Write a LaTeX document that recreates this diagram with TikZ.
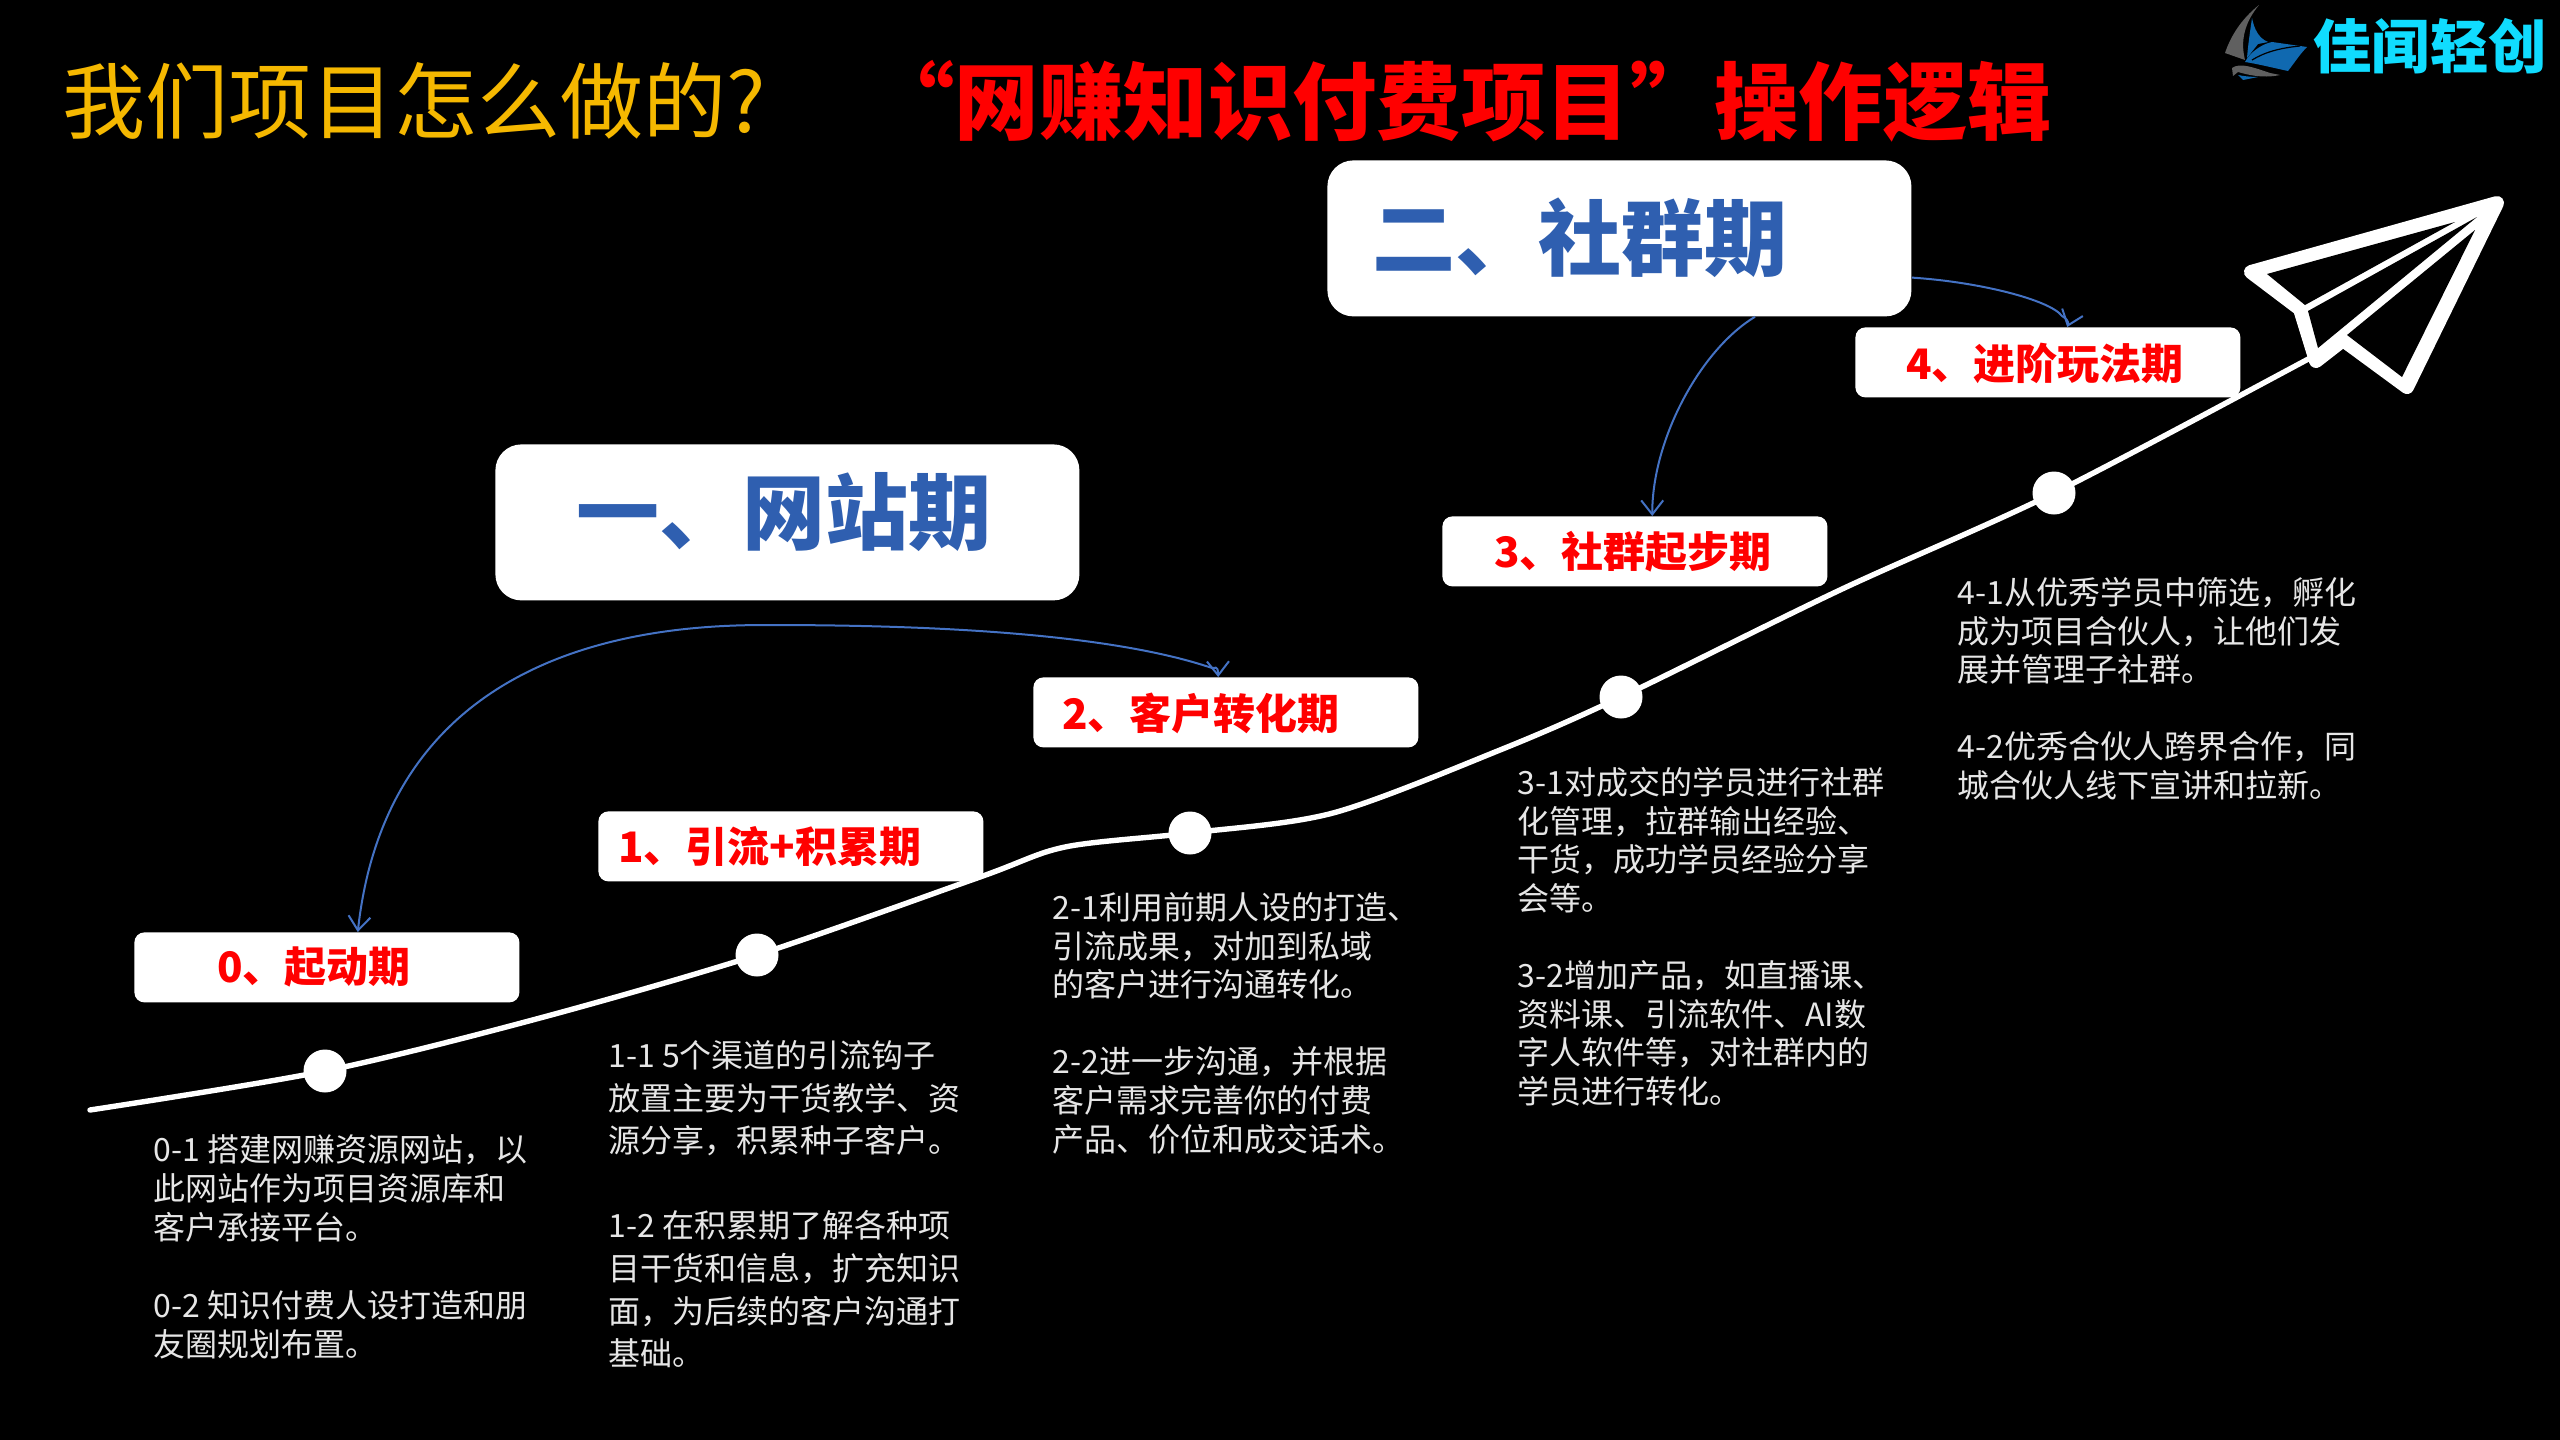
\documentclass[tikz,border=0pt]{standalone}
\usepackage{fontspec}
\setmainfont{Noto Sans CJK SC}
\newfontfamily\cjkbold{Noto Sans CJK SC Bold}
\usetikzlibrary{arrows.meta,calc}
\definecolor{titley}{HTML}{F5B800}
\definecolor{arrowb}{HTML}{4472C4}
\definecolor{bigb}{HTML}{2F5FB0}
\definecolor{bodyt}{HTML}{E6E6E6}
\definecolor{logoc}{HTML}{10DCFF}
\definecolor{shipb}{HTML}{1069B0}
\definecolor{shipg}{HTML}{606060}
\tikzset{
  x=0.5pt,y=-0.5pt,
  stagebox/.style={fill=white,rounded corners=5pt,minimum width=192.5pt,minimum height=35pt,inner sep=0pt,anchor=north west},
  stagelabel/.style={text=red,font={\fontsize{21pt}{24pt}\bfseries\selectfont},anchor=west,inner sep=0pt},
  bigbox/.style={fill=white,rounded corners=13pt,minimum width=292pt,minimum height=78pt,inner sep=0pt,anchor=north west},
  biglabel/.style={text=bigb,font={\fontsize{41.5pt}{46pt}\bfseries\selectfont},anchor=west,inner sep=0pt},
  dot/.style={circle,fill=white,minimum size=21.5pt,inner sep=0pt},
  bodytext/.style={text=bodyt,anchor=north west,align=left,inner sep=0pt},
  conn/.style={draw=arrowb,line width=1pt,-{Straight Barb[length=7pt,width=11pt,line width=1pt]}},
  conn2/.style={draw=arrowb,line width=1pt,{Straight Barb[length=7pt,width=11pt,line width=1pt]}-{Straight Barb[length=7pt,width=11pt,line width=1pt]}},
}
\newcommand{\bodyfont}[1]{\fontsize{16pt}{#1pt}\selectfont}
\begin{document}
\begin{tikzpicture}
\useasboundingbox (0,0) rectangle (2560,1440);
\fill[black] (0,0) rectangle (2560,1440);

% title
\node[anchor=west,inner sep=0pt,text=titley,font={\fontsize{41.5pt}{46pt}\selectfont}] (t1) at (62,101) {我们项目怎么做的?};
\node[anchor=west,inner sep=0pt,text=red,font={\fontsize{42.2pt}{46pt}\bfseries\selectfont}] (t2) at (870,101) {“网赚知识付费项目”操作逻辑};

% logo
\fill[shipg] (2259,5) .. controls (2240,20) and (2230,38) .. (2225,53) -- (2245,60) .. controls (2240,40) and (2245,22) .. (2259,5) -- cycle;
\fill[shipb] (2252,18) .. controls (2250,32) and (2248,45) .. (2247,58) -- (2258,44) -- (2268,42) .. controls (2258,38) and (2254,28) .. (2252,18) -- cycle;
\fill[shipb] (2307,47) -- (2272,42) .. controls (2262,44) and (2250,52) .. (2245,62) .. controls (2258,64) and (2274,68) .. (2288,71) .. controls (2295,62) and (2300,54) .. (2307,47) -- cycle;
\draw[black,line width=0.6pt] (2252,60) .. controls (2265,52) and (2280,48) .. (2300,46);
\fill[shipg] (2232,68) .. controls (2240,62) and (2255,68) .. (2270,73) -- (2280,75) .. controls (2262,79) and (2245,74) .. (2238,72) -- (2233,76) -- cycle;
\fill[shipb] (2238,75) -- (2243,80) -- (2258,77) .. controls (2250,77) and (2243,76) .. (2238,75) -- cycle;
\node[anchor=west,inner sep=0pt,text=logoc,font={\fontsize{29.2pt}{32pt}\bfseries\selectfont}] (logo) at (2313,46) {佳闻轻创};

% growth curve
\coordinate (c0) at (90,1110);
\coordinate (c1) at (2312,357);
\node[dot] (d0) at (325,1071) {};
\node[dot] (d1) at (757,955) {};
\node[dot] (d2) at (1190,833) {};
\node[dot] (d3) at (1621,697) {};
\node[dot] (d4) at (2054,493) {};
\coordinate (w1) at (540,1018);
\coordinate (w2) at (980,877);
\coordinate (w3) at (1065,847);
\coordinate (w4) at (1333,813);
\coordinate (w5) at (1500,750);
\coordinate (w6) at (1840,590);
\draw[white,line width=2.7pt,line cap=round] plot[smooth,tension=0.5] coordinates {(c0) (d0) (w1) (d1) (w2) (w3) (d2) (w4) (w5) (d3) (w6) (d4) (c1)};

% stage boxes
\node[stagebox] (b0) at (134,932) {};
\node[stagebox] (b1) at (598,811) {};
\node[stagebox] (b2) at (1033,677) {};
\node[stagebox] (b3) at (1442,516) {};
\node[stagebox] (b4) at (1855,327) {};
\node[stagelabel] (l0) at (217,967) {0、起动期};
\node[stagelabel] (l1) at (618,847) {1、引流+积累期};
\node[stagelabel] (l2) at (1062,713) {2、客户转化期};
\node[stagelabel] (l3) at (1494,552) {3、社群起步期};
\node[stagelabel] (l4) at (1906,363) {4、进阶玩法期};

% big boxes
\node[bigbox] (p1) at (495,444) {};
\node[bigbox] (p2) at (1327,160) {};
\node[biglabel] (pl1) at (576,512) {一、网站期};
\node[biglabel] (pl2) at (1372,238) {二、社群期};

% connectors
\coordinate (a0) at ($(b0.north west)!0.58!(b0.north east)$);
\coordinate (a1) at ($(b2.north west)!0.48!(b2.north east)$);
\draw[conn2] (a0) .. controls (390,640) and (660,625) .. (767,625) .. controls (900,625) and (1100,630) .. (1212,668) .. controls (1214,669) and (1218,664) .. (a1);
\draw[conn] (p2.south west) ++(428,0) .. controls (1700,350) and (1652,440) .. ($(b3.north west)!0.545!(b3.north east)$);
\draw[conn] ($(p2.north east)!0.75!(p2.south east)$) .. controls (1980,282) and (2050,300) .. (2062,316) .. controls (2066,318) and (2069,322) .. ($(b4.north west)!0.55!(b4.north east)$);

% plane
\fill[white,draw=white,line width=7pt,line join=round] (2497,203) -- (2251,272) -- (2300,309) -- (2316,361) -- (2343,340) -- (2407,387) -- cycle;
\fill[black] (2455,222) -- (2267,274) -- (2305,305) -- cycle;
\fill[black] (2477,217) -- (2308,311) -- (2318,348) -- cycle;
\fill[black] (2475,230) -- (2347,335) -- (2402,377) -- cycle;

% body text
\node[bodytext,font=\bodyfont{19.5}] (x0) at (153,1134) {0-1 搭建网赚资源网站，以\\此网站作为项目资源库和\\客户承接平台。\\[19.5pt]0-2 知识付费人设打造和朋\\友圈规划布置。};
\node[bodytext,font=\bodyfont{21.3}] (x1) at (608,1040) {1-1 5个渠道的引流钩子\\放置主要为干货教学、资\\源分享，积累种子客户。\\[21.3pt]1-2 在积累期了解各种项\\目干货和信息，扩充知识\\面，为后续的客户沟通打\\基础。};
\node[bodytext,font=\bodyfont{19.3}] (x2) at (1052,892) {2-1利用前期人设的打造、\\引流成果，对加到私域\\的客户进行沟通转化。\\[19.3pt]2-2进一步沟通，并根据\\客户需求完善你的付费\\产品、价位和成交话术。};
\node[bodytext,font=\bodyfont{19.3}] (x3) at (1517,767) {3-1对成交的学员进行社群\\化管理，拉群输出经验、\\干货，成功学员经验分享\\会等。\\[19.3pt]3-2增加产品，如直播课、\\资料课、引流软件、AI数\\字人软件等，对社群内的\\学员进行转化。};
\node[bodytext,font=\bodyfont{19.3}] (x4) at (1957,577) {4-1从优秀学员中筛选，孵化\\成为项目合伙人，让他们发\\展并管理子社群。\\[19.3pt]4-2优秀合伙人跨界合作，同\\城合伙人线下宣讲和拉新。};
\end{tikzpicture}
\end{document}
